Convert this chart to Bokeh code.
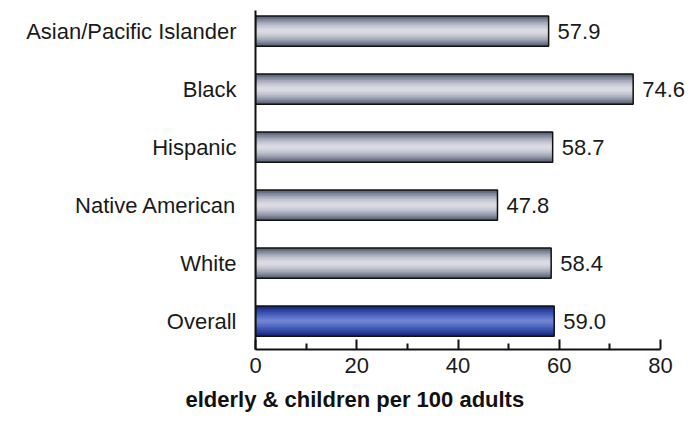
from bokeh.plotting import figure
from bokeh.models import ColumnDataSource, Range1d, FixedTicker, Title, LabelSet
from bokeh.core.properties import value
from bokeh.embed import file_html
from bokeh.resources import INLINE

# ---- data ----
categories = ["Asian/Pacific Islander", "Black", "Hispanic", "Native American", "White", "Overall"]
values = [57.9, 74.6, 58.7, 47.8, 58.4, 59.0]
x_ticks = [0, 20, 40, 60, 80]
x_minor_ticks = [10, 30, 50, 70]
axis_title = "elderly & children per 100 adults"

# ---- styling ----
FONT = "Liberation Sans"
gray_shades = ["#586174", "#6a7386", "#7e8598", "#9096a8", "#a2a6b6", "#b2b5c3",
               "#c0c2ce", "#cbccd7", "#d4d4de", "#dbdbe4"]
blue_shades = ["#18287a", "#1f3288", "#273d96", "#3047a3", "#3a52ae", "#455db8",
               "#5067c0", "#5b71c7", "#667bcd", "#7084d1"]
layer_fracs = [1.0, 0.9, 0.8, 0.7, 0.6, 0.5, 0.4, 0.3, 0.2, 0.1]
bar_h = 0.52

# layout: axis spans 0..80 over 405 px; frame extends further right (invisible)
AXIS_MAX = 80
AXIS_PX = 405
LEFT = 255
WIDTH = 688
HEIGHT = 423
frame_px = WIDTH - LEFT
x_end = AXIS_MAX * frame_px / AXIS_PX

n = len(categories)
ypos = [n - 1 - i for i in range(n)]
is_overall = [c == "Overall" for c in categories]

data = dict(y=ypos, x=values, label=[f"{v:.1f}" for v in values])
for k in range(len(layer_fracs)):
    data[f"c{k}"] = [blue_shades[k] if o else gray_shades[k] for o in is_overall]
src = ColumnDataSource(data)

p = figure(width=WIDTH, height=HEIGHT, output_backend="svg", toolbar_location=None,
           x_range=Range1d(0, x_end), y_range=Range1d(-0.49, 5.355),
           min_border_left=LEFT, min_border_right=0, min_border_top=10, min_border_bottom=74)
p.outline_line_color = None
p.xgrid.visible = False
p.ygrid.visible = False
p.background_fill_color = "white"

for k, f in enumerate(layer_fracs):
    p.hbar(y="y", right="x", left=0, height=bar_h * f, fill_color=f"c{k}",
           line_color=None, source=src)
p.hbar(y="y", right="x", left=0, height=bar_h, fill_color=None,
       line_color="#111111", line_width=1.5, source=src)

labels = LabelSet(x="x", y="y", text="label", x_offset=9, text_baseline="middle",
                  text_font=value(FONT), text_font_size=value("22px"),
                  text_color="#1a1a1a", source=src)
p.add_layout(labels)

xa = p.xaxis[0]
xa.ticker = FixedTicker(ticks=x_ticks, minor_ticks=x_minor_ticks)
xa.bounds = (0, AXIS_MAX)
xa.axis_line_width = 2
xa.axis_line_color = "#111111"
xa.major_tick_in = 10
xa.major_tick_out = 0
xa.minor_tick_in = 6
xa.minor_tick_out = 0
xa.major_tick_line_width = 2
xa.minor_tick_line_width = 2
xa.major_tick_line_color = "#111111"
xa.minor_tick_line_color = "#111111"
xa.major_label_text_font = FONT
xa.major_label_text_font_size = "22px"
xa.major_label_text_color = "#1a1a1a"
xa.major_label_standoff = 8

ya = p.yaxis[0]
ya.ticker = FixedTicker(ticks=ypos, minor_ticks=[])
ya.major_label_overrides = {ypos[i]: categories[i] for i in range(n)}
ya.axis_line_width = 2
ya.axis_line_color = "#111111"
ya.major_tick_line_color = None
ya.minor_tick_line_color = None
ya.major_label_text_font = FONT
ya.major_label_text_font_size = "22px"
ya.major_label_text_color = "#1a1a1a"
ya.major_label_standoff = 13

t = Title(text=axis_title, align="left", offset=-70, standoff=19,
          vertical_align="bottom", text_font=FONT,
          text_font_size="22px", text_font_style="bold", text_color="#111111")
p.add_layout(t, "below")

open("out.html", "w").write(file_html(p, INLINE))
